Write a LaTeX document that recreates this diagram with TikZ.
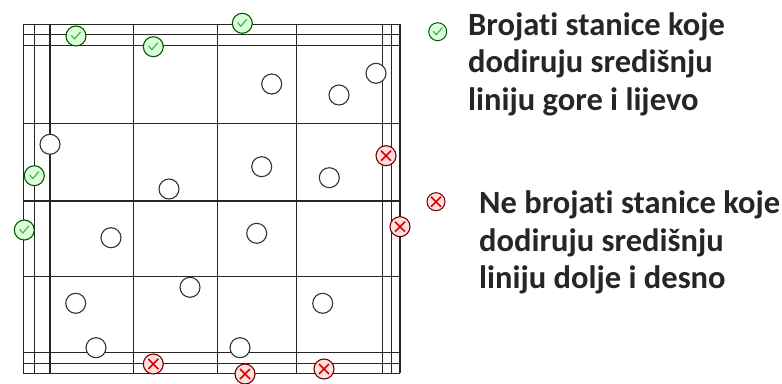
\documentclass[tikz,border=0pt]{standalone}
\usepackage{fontspec}
\setmainfont{Carlito}[Ligatures=NoCommon]
\usetikzlibrary{positioning}

\tikzset{
  gridline/.style={line width=1.5pt,black!85},
  cell/.style={circle,draw=black!80,line width=1.1pt,fill=white,minimum size=20pt,inner sep=0pt},
  yescell/.style={circle,draw=green!35!black,line width=1.1pt,fill=green!14,minimum size=20pt,inner sep=0pt,
    path picture={\draw[green!55!black!70,line width=1.2pt,line cap=round,line join=round]
      ([shift={(-4.5pt,0.5pt)}]path picture bounding box.center) -- ++(3pt,-3.5pt) -- ++(6pt,7pt);}},
  nocell/.style={circle,draw=red!45!black,line width=1.1pt,fill=red!12,minimum size=20pt,inner sep=0pt,
    path picture={\draw[red!85!black,line width=1.5pt]
      ([shift={(-5pt,-5pt)}]path picture bounding box.center) -- ++(10pt,10pt)
      ([shift={(-5pt,5pt)}]path picture bounding box.center) -- ++(10pt,-10pt);}},
  legtext/.style={anchor=base west,align=left,inner sep=0pt,text=black!85,font=\fontsize{32.5}{37.3}\selectfont\bfseries}
}

\begin{document}
\begin{tikzpicture}[x=1pt,y=-1pt]
\useasboundingbox (0,0) rectangle (782,383);

% counting chamber lines
\draw[gridline] (23.3,24.3) -- (23.3,373.3);
\draw[gridline] (34.3,24.3) -- (34.3,373.3);
\draw[gridline] (50,24.3) -- (50,373.3);
\draw[gridline] (133.3,24.3) -- (133.3,373.3);
\draw[gridline] (217.3,24.3) -- (217.3,373.3);
\draw[gridline] (296.7,24.3) -- (296.7,373.3);
\draw[gridline] (382.3,24.3) -- (382.3,373.3);
\draw[gridline] (391.7,24.3) -- (391.7,373.3);
\draw[gridline] (400,24.3) -- (400,373.3);
\draw[gridline] (23.3,24.3) -- (400,24.3);
\draw[gridline] (23.3,34.3) -- (400,34.3);
\draw[gridline] (23.3,45.7) -- (400,45.7);
\draw[gridline] (23.3,123.3) -- (400,123.3);
\draw[gridline] (23.3,201) -- (400,201);
\draw[gridline] (23.3,276.7) -- (400,276.7);
\draw[gridline] (23.3,352.7) -- (400,352.7);
\draw[gridline] (23.3,363.3) -- (400,363.3);
\draw[gridline] (23.3,373.3) -- (400,373.3);

% cells inside the squares
\node[cell] (c1) at (271.7,84) {};
\node[cell] (c2) at (339,95) {};
\node[cell] (c3) at (376,73.3) {};
\node[cell] (c4) at (50,144.3) {};
\node[cell] (c5) at (261.7,166.7) {};
\node[cell] (c6) at (329.3,177.7) {};
\node[cell] (c7) at (169,189) {};
\node[cell] (c8) at (111,237.7) {};
\node[cell] (c9) at (256.7,233.3) {};
\node[cell] (c10) at (190,287.3) {};
\node[cell] (c11) at (75.7,303.3) {};
\node[cell] (c12) at (322.7,303.3) {};
\node[cell] (c13) at (96,347.7) {};
\node[cell] (c14) at (240,347.7) {};

% counted: touching top and left
\node[yescell] (y1) at (76,36) {};
\node[yescell] (y2) at (153.3,46.7) {};
\node[yescell] (y3) at (242.3,23.3) {};
\node[yescell] (y4) at (34.3,175.7) {};
\node[yescell] (y5) at (24.3,230) {};

% not counted: touching bottom and right
\node[nocell] (n1) at (386,155.7) {};
\node[nocell] (n2) at (400,226.7) {};
\node[nocell] (n3) at (153.3,364) {};
\node[nocell] (n4) at (245,374) {};
\node[nocell] (n5) at (324,369) {};

% legend (base anchor sits on the last line)
\node[yescell,minimum size=18pt,line width=1pt] (yesicon) at (437.7,31.7) {};
\node[nocell,minimum size=18pt,line width=1pt] (noicon) at (436,201.7) {};
\node[legtext] (yestext) at (468,110) {Brojati stanice koje\\dodiruju središnju\\liniju gore i lijevo};
\node[legtext] (notext) at (479,288.3) {Ne brojati stanice koje\\dodiruju središnju\\liniju dolje i desno};
\end{tikzpicture}
\end{document}
